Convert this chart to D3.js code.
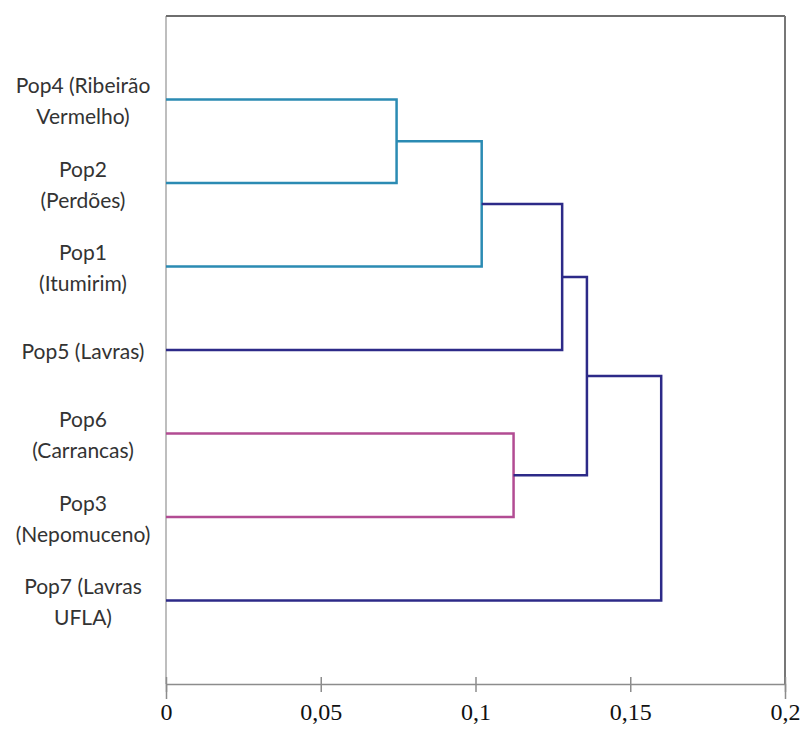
<!DOCTYPE html>
<html>
<head>
<meta charset="utf-8">
<script src="https://cdn.jsdelivr.net/npm/d3@7"></script>
<style>
    html, body { margin: 0; padding: 0; background: #ffffff; }
    svg { display: block; }
</style>
</head>
<body>
<div id="chart"></div>
<script>
// leaves, top to bottom
const leaves = ['Pop4', 'Pop2', 'Pop1', 'Pop5', 'Pop6', 'Pop3', 'Pop7'];
const leafLabels = [
    ['Pop4 (Ribeirão', 'Vermelho)'],
    ['Pop2', '(Perdões)'],
    ['Pop1', '(Itumirim)'],
    ['Pop5 (Lavras)'],
    ['Pop6', '(Carrancas)'],
    ['Pop3', '(Nepomuceno)'],
    ['Pop7 (Lavras', 'UFLA)']
];

// merges: [left child, right child, distance, cluster]
const mergeA = ['Pop4', 'M1', 'M2', 'Pop6', 'M3', 'M5'];
const mergeB = ['Pop2', 'Pop1', 'Pop5', 'Pop3', 'M4', 'Pop7'];
const mergeDist = [0.0745, 0.102, 0.128, 0.1123, 0.136, 0.160];
const mergeGroup = ['a', 'a', 'root', 'b', 'root', 'root'];

const tickValues = [0, 0.05, 0.1, 0.15, 0.2];

const colors = { a: '#2b8bb3', b: '#b24c93', root: '#2d2a88' };

class Dendrogram {
    constructor(id) {
        this.element = document.getElementById(id);
    }

    draw() {
        const W = 803, H = 731;
        const margin = { top: 16, right: 18, bottom: 47, left: 166 };
        const w = W - margin.left - margin.right;
        const h = H - margin.top - margin.bottom;

        const scaleX = d3.scaleLinear().domain([0, 0.2]).range([0, w]);
        const scaleY = d3.scalePoint().domain(leaves).range([0, h]).padding(1);

        const svg = d3.select(this.element).append('svg')
            .attr('width', W)
            .attr('height', H);

        const chart = svg.append('g')
            .attr('transform', 'translate(' + margin.left + ', ' + margin.top + ')');

        // plot area frame
        chart.append('line')
            .attr('x1', 0).attr('x2', 0).attr('y1', 0).attr('y2', h)
            .style('stroke', '#a8a8a8').style('stroke-width', 1.5);
        chart.append('line')
            .attr('x1', 0).attr('x2', w).attr('y1', 0).attr('y2', 0)
            .style('stroke', '#6e6e6e').style('stroke-width', 2);
        chart.append('line')
            .attr('x1', w).attr('x2', w).attr('y1', 0).attr('y2', h)
            .style('stroke', '#777').style('stroke-width', 2);

        // x axis with crossing ticks
        const axisX = d3.axisBottom(scaleX)
            .tickValues(tickValues)
            .tickSize(15)
            .tickPadding(6)
            .tickFormat(d => String(d).replace('.', ','));

        const ax = chart.append('g')
            .attr('transform', 'translate(0, ' + h + ')')
            .call(axisX);
        ax.select('.domain').style('stroke', '#8c8c8c').style('stroke-width', 1.5);
        ax.selectAll('.tick line')
            .attr('y1', -7).attr('y2', 8)
            .style('stroke', '#8c8c8c').style('stroke-width', 1.5);
        ax.selectAll('.tick text')
            .attr('y', 19)
            .style('font-family', '"Liberation Serif", "DejaVu Serif", serif')
            .style('font-size', '24px')
            .style('fill', '#111');

        // build node positions from merges
        const pos = {};
        leaves.forEach(l => { pos[l] = { x: 0, y: scaleY(l) }; });

        const links = chart.append('g').style('fill', 'none').style('stroke-width', 2.5);

        mergeDist.forEach((d, i) => {
            const id = 'M' + (i + 1);
            const a = pos[mergeA[i]], b = pos[mergeB[i]];
            const x = scaleX(d);
            pos[id] = { x: d, y: (a.y + b.y) / 2 };
            links.append('path')
                .attr('d', 'M' + scaleX(a.x) + ',' + a.y + 'H' + x + 'V' + b.y + 'H' + scaleX(b.x))
                .style('stroke', colors[mergeGroup[i]]);
        });

        // leaf labels
        const labels = svg.append('g')
            .style('font-family', 'Lato, "Open Sans", sans-serif')
            .style('font-size', '21px')
            .style('fill', '#333')
            .attr('text-anchor', 'middle');

        leaves.forEach((l, i) => {
            const lines = leafLabels[i];
            const cy = margin.top + scaleY(l) + 2;
            const step = 31;
            const t = labels.append('text')
                .attr('x', 83)
                .attr('y', cy - (lines.length - 1) * step / 2);
            lines.forEach((s, j) => {
                t.append('tspan')
                    .attr('x', 83)
                    .attr('dy', j === 0 ? '0.35em' : step)
                    .text(s);
            });
        });
    }
}

const chart = new Dendrogram('chart');
chart.draw();
</script>
</body>
</html>
